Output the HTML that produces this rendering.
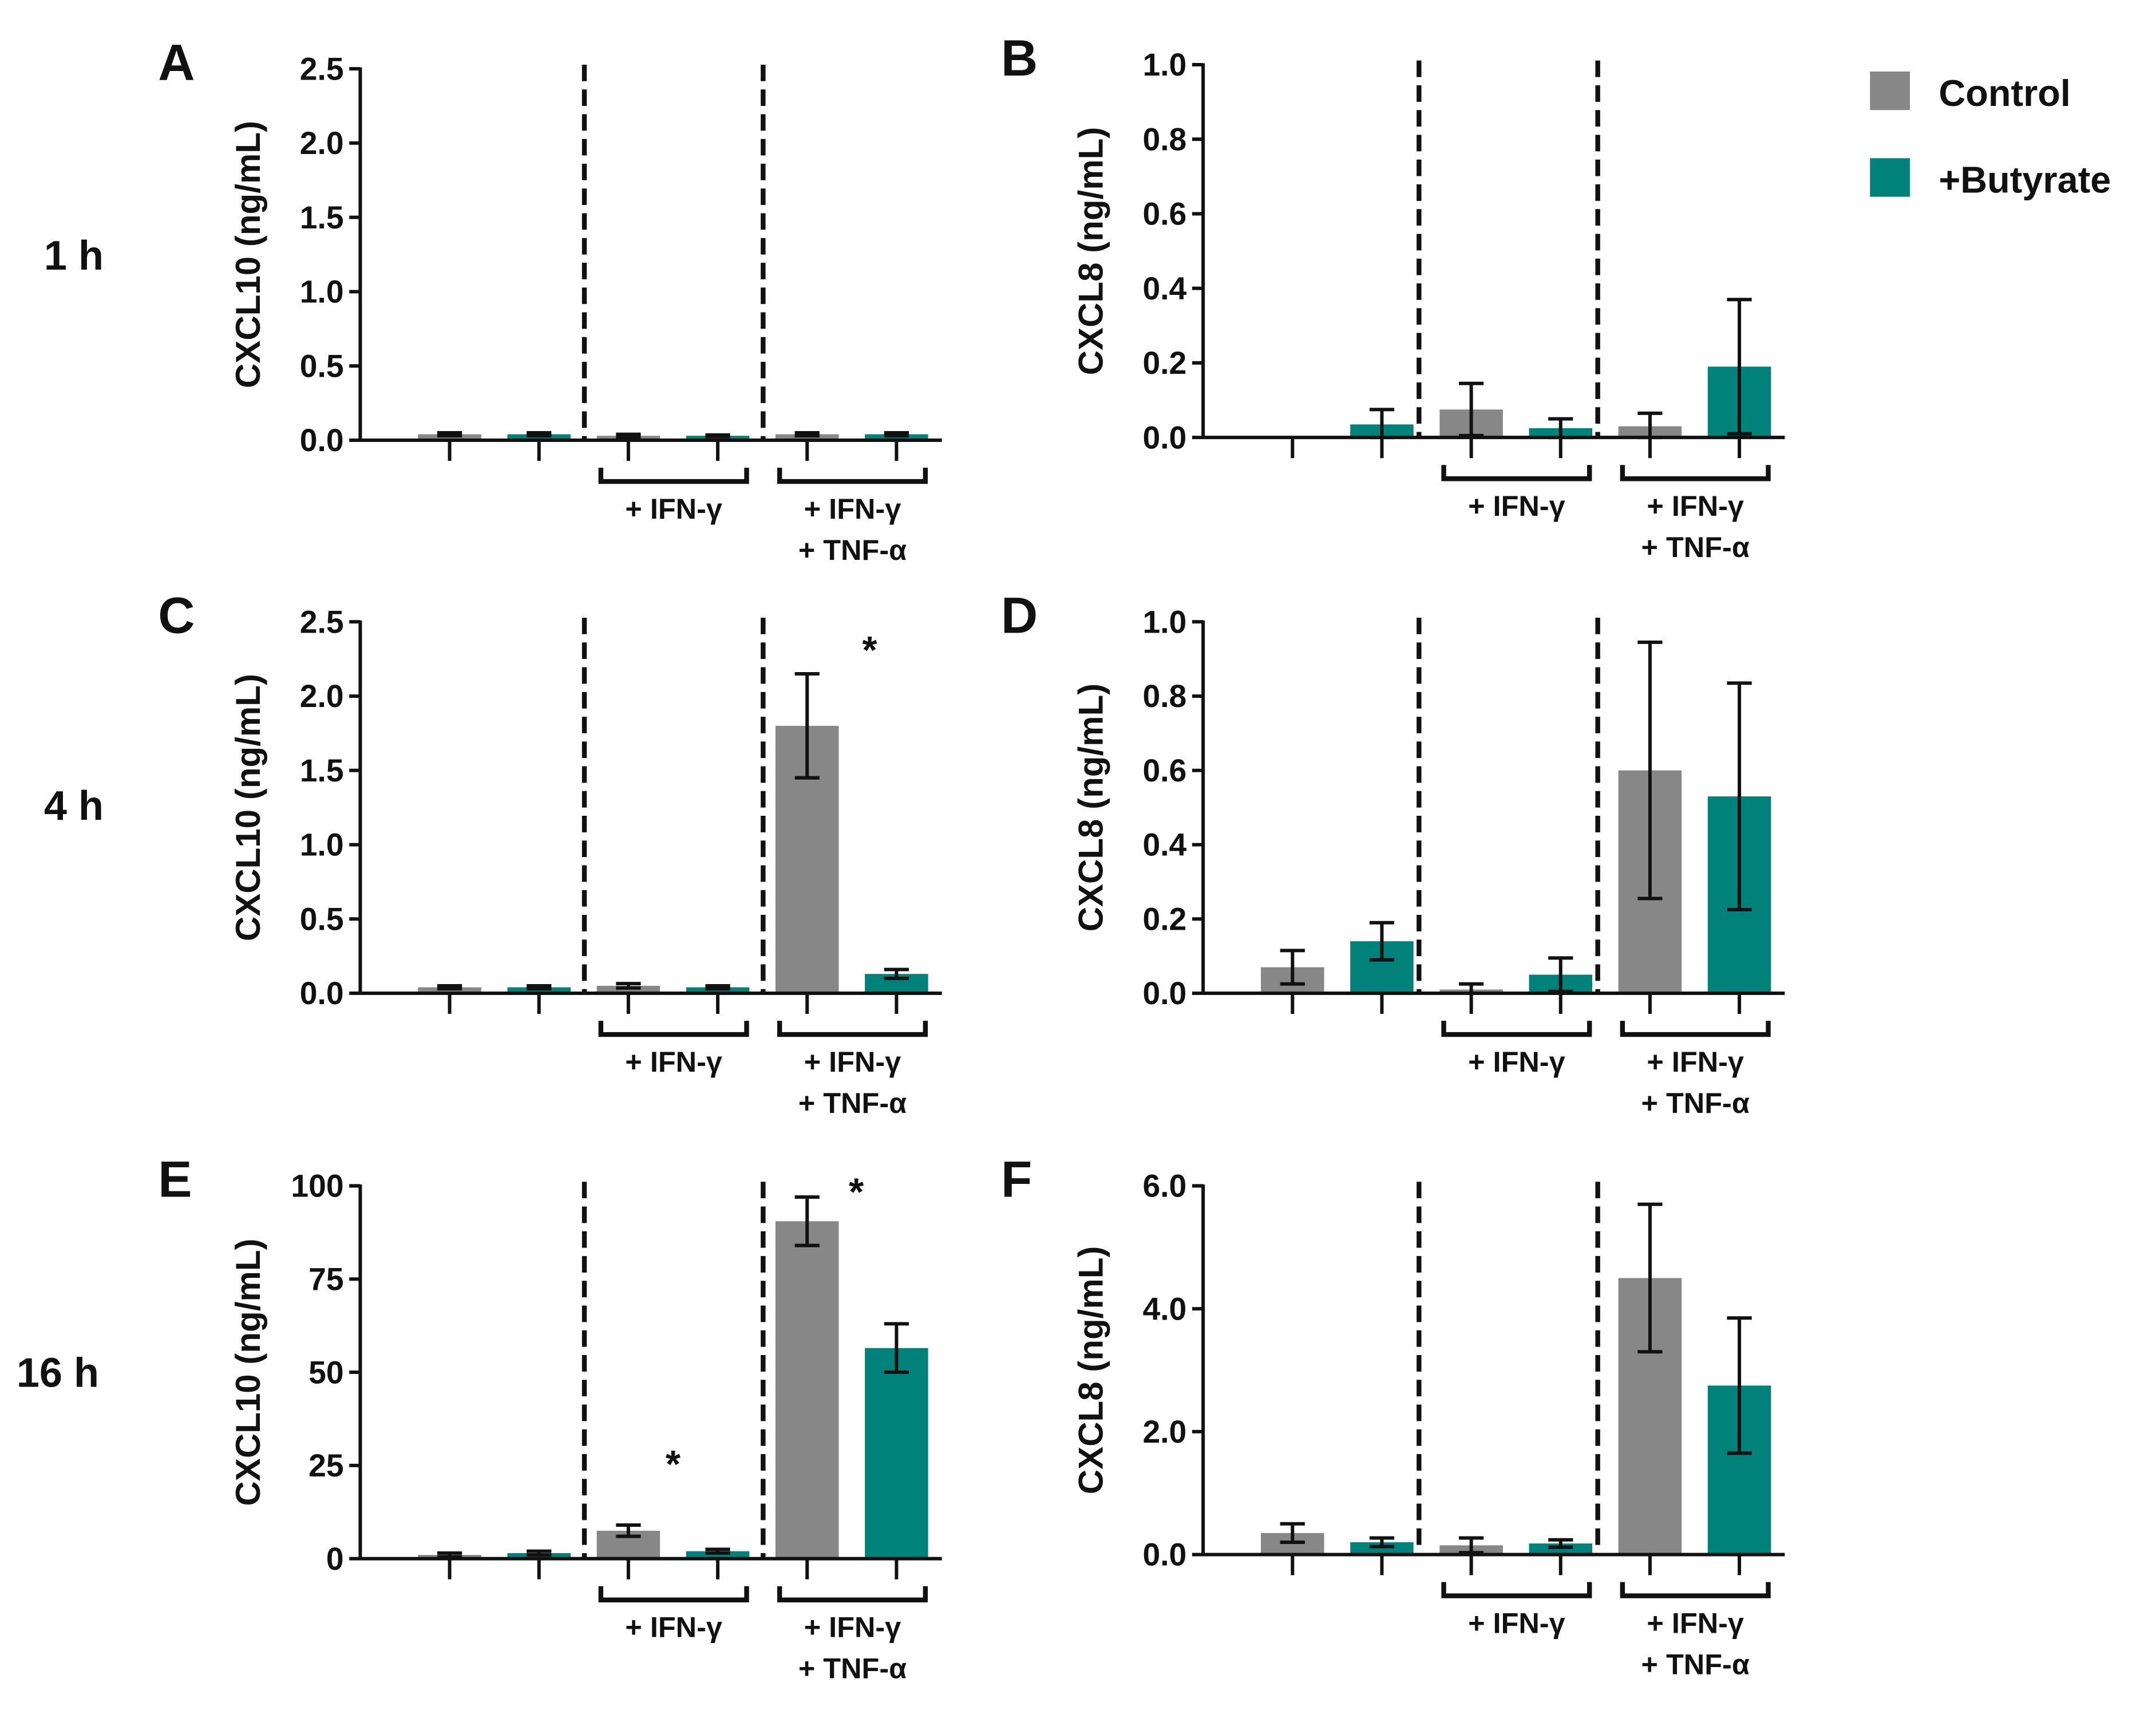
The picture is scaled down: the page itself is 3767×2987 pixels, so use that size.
<!DOCTYPE html>
<html><head><meta charset="utf-8">
<style>
html,body{margin:0;padding:0;background:#fff;}
svg{display:block;}
text{font-family:"Liberation Sans",sans-serif;font-weight:bold;fill:#111;}
</style></head>
<body>
<svg id="fig" width="3767" height="2987" viewBox="0 0 1568 1243" preserveAspectRatio="none" xmlns="http://www.w3.org/2000/svg">
<rect width="1568" height="1243" fill="#fff"/>
<g>
<rect x="1360" y="52" width="29" height="28" fill="#878787"/>
<text x="1410" y="77" font-size="27">Control</text>
<rect x="1360" y="115" width="29" height="28" fill="#00817a"/>
<text x="1410" y="140" font-size="27">+Butyrate</text>
</g>
<text x="32" y="196" font-size="30">1 h</text>
<text x="32" y="596" font-size="30">4 h</text>
<text x="12" y="1008" font-size="30">16 h</text>
</svg>
<script>
const NS="http://www.w3.org/2000/svg";
const svg=document.getElementById('fig');
// data
const panelLetters=["A","B","C","D","E","F"];
const yTitles=["CXCL10 (ng/mL)","CXCL8 (ng/mL)","CXCL10 (ng/mL)","CXCL8 (ng/mL)","CXCL10 (ng/mL)","CXCL8 (ng/mL)"];
const yMax=[2.5,1.0,2.5,1.0,100,6.0];
const tickA=["0.0","0.5","1.0","1.5","2.0","2.5"];
const tickB=["0.0","0.2","0.4","0.6","0.8","1.0"];
const tickE=["0","25","50","75","100"];
const tickF=["0.0","2.0","4.0","6.0"];
const tickLabels=[tickA,tickB,tickA,tickB,tickE,tickF];
const valsA=[0.04,0.04,0.03,0.03,0.04,0.04];
const errA=[0.01,0.01,0.01,0.005,0.01,0.01];
const valsB=[0,0.035,0.075,0.025,0.03,0.19];
const errB=[0,0.04,0.07,0.025,0.035,0.18];
const valsC=[0.04,0.04,0.05,0.04,1.8,0.13];
const errC=[0.01,0.01,0.015,0.01,0.35,0.03];
const valsD=[0.07,0.14,0.01,0.05,0.6,0.53];
const errD=[0.045,0.05,0.015,0.045,0.345,0.305];
const valsE=[1,1.5,7.5,2,90.5,56.5];
const errE=[0.5,0.5,1.5,0.5,6.5,6.5];
const valsF=[0.35,0.2,0.15,0.18,4.5,2.75];
const errF=[0.15,0.07,0.12,0.06,1.2,1.1];
const values=[valsA,valsB,valsC,valsD,valsE,valsF];
const errors=[errA,errB,errC,errD,errE,errF];
const stars=[[],[],[[4.7,2.35]],[],[[4.55,100],[2.5,27]],[]];
// layout
const ox=[262,875,262,875,262,875];
const oy=[320,318,722,722,1133,1130];
const topY=[50,47,452,452,862,862];
const dashOff=[[163,293],[157,287],[163,293],[157,287],[163,293],[157,287]];
const colors=["#878787","#00817a","#878787","#00817a","#878787","#00817a"];
function el(tag,attrs,parent){const e=document.createElementNS(NS,tag);for(const k in attrs)e.setAttribute(k,attrs[k]);(parent||svg).appendChild(e);return e;}
for(let p=0;p<6;p++){
  const g=el('g',{});
  
  
  const x0=ox[p],y0=oy[p],yt=topY[p];
  const ys=v=>y0-(v/yMax[p])*(y0-yt);
  const xs=i=>x0+65+i*65;
  const L=el('text',{x:x0-147,y:yt+8,'font-size':37},g);L.textContent=panelLetters[p];
  
  const T=el('text',{x:0,y:0,'font-size':25,'text-anchor':'middle',transform:`translate(${x0-73},${(yt+y0)/2}) rotate(-90)`},g);T.textContent=yTitles[p];
  
  const ticks=tickLabels[p];
  ticks.forEach(t=>{const v=parseFloat(t);const y=ys(v);
    el('line',{x1:x0-8,x2:x0,y1:y,y2:y,stroke:'#111','stroke-width':2.5},g);
    const tx=el('text',{x:x0-12,y:y+8,'font-size':23,'text-anchor':'end'},g);tx.textContent=t;
    });
  values[p].forEach((v,i)=>{const cx=xs(i);const y=ys(v);
    const b=el('rect',{x:cx-23,y:y,width:46,height:Math.max(0,y0-y),fill:colors[i]},g);
    
    const e=errors[p][i];
    if(v>0){const yh=ys(v+e),yl=ys(Math.max(0,v-e));
      el('line',{x1:cx,x2:cx,y1:yh,y2:yl,stroke:'#111','stroke-width':2.5},g);
      el('line',{x1:cx-9,x2:cx+9,y1:yh,y2:yh,stroke:'#111','stroke-width':2.5},g);
      el('line',{x1:cx-9,x2:cx+9,y1:yl,y2:yl,stroke:'#111','stroke-width':2.5},g);}
    el('line',{x1:cx,x2:cx,y1:y0,y2:y0+15,stroke:'#111','stroke-width':2.5},g);
  });
  el('line',{x1:x0,x2:x0,y1:yt-1,y2:y0+1,stroke:'#111','stroke-width':2.5},g);
  el('line',{x1:x0,x2:x0+423,y1:y0,y2:y0,stroke:'#111','stroke-width':2.5},g);
  dashOff[p].forEach(d=>{el('line',{x1:x0+d,x2:x0+d,y1:yt-3,y2:y0,stroke:'#111','stroke-width':3.5,'stroke-dasharray':'12,6'},g);});
  [[175,281,["+ IFN-γ"]],[305,411,["+ IFN-γ","+ TNF-α"]]].forEach(([a,b,labs])=>{
    const yb=y0+30;
    el('path',{d:`M${x0+a},${yb-10} V${yb} H${x0+b} V${yb-10}`,fill:'none',stroke:'#111','stroke-width':3.5},g);
    labs.forEach((s,k)=>{const t=el('text',{x:x0+(a+b)/2,y:yb+27+k*30,'font-size':21,'text-anchor':'middle'},g);t.textContent=s;
      });
  });
  stars[p].forEach(([xi,yv])=>{const s=el('text',{x:xs(xi),y:ys(yv)+14,'font-size':28,'text-anchor':'middle'},g);s.textContent='*';
    });
}
</script>
</body></html>
